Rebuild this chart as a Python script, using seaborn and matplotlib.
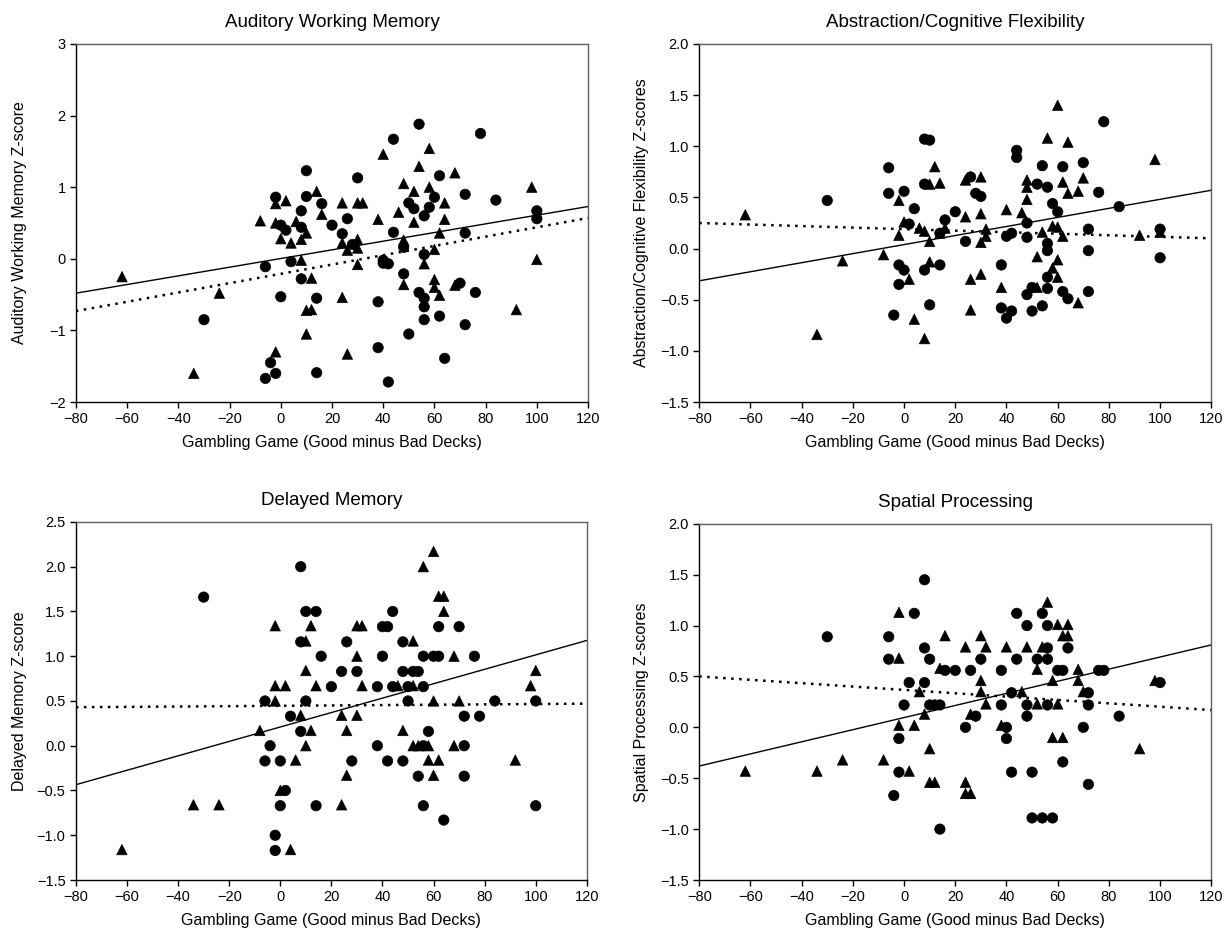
import pandas as pd
import seaborn as sns
import matplotlib.pyplot as plt

# x 값 (Gambling Game) / y 값 (Z-score), 원(circle)과 삼각형(triangle) 그룹
aud_circ_x = [-30, -6, -4, -6, -2, -2, 0, 2, 0, 4, 8, 8, 10, 10, 8, 14, 14, 16, 20, 24, 26, 30, 28, 38, 38,
              40, 40, 42, 44, 44, 42, 48, 48, 50, 50, 52, 54, 54, 56, 56, 56, 56, 56, 58, 60, 62, 62, 64,
              70, 72, 72, 72, 76, 78, 84, 100, 100]
aud_circ_y = [-0.85, -0.11, -1.45, -1.67, -1.60, 0.86, 0.47, 0.40, -0.53, -0.04, 0.67, 0.44, 1.23, 0.87,
              -0.28, -0.55, -1.59, 0.77, 0.47, 0.35, 0.56, 1.13, 0.20, -0.60, -1.24, -0.02, -0.06, -0.07,
              1.67, 0.37, -1.72, -0.21, 0.16, 0.78, -1.05, 0.70, 1.88, -0.47, 0.60, 0.06, -0.55, -0.67,
              -0.85, 0.72, 0.86, 1.16, -0.80, -1.39, -0.34, 0.90, 0.36, -0.92, -0.47, 1.75, 0.82, 0.67, 0.56]
aud_tri_x = [-62, -34, -24, -8, -2, -2, -2, 0, 2, 4, 6, 8, 8, 10, 10, 10, 12, 12, 14, 16, 24, 24, 24, 26,
             26, 30, 32, 30, 30, 30, 38, 40, 46, 48, 48, 48, 52, 52, 54, 56, 58, 58, 60, 60, 60, 62, 62,
             64, 64, 68, 68, 92, 98, 100]
aud_tri_y = [-0.25, -1.60, -0.48, 0.53, 0.77, 0.50, -1.30, 0.28, 0.81, 0.22, 0.52, 0.27, -0.02, 0.36,
             -0.72, -1.05, -0.27, -0.71, 0.94, 0.62, 0.78, 0.22, -0.54, 0.12, -1.33, 0.78, 0.78, 0.27,
             0.15, -0.08, 0.55, 1.46, 0.65, 1.05, 0.26, -0.36, 0.94, 0.51, 1.29, -0.07, 1.54, 1.00, 0.13,
             -0.29, -0.40, 0.36, -0.51, 0.78, 0.55, 1.20, -0.37, -0.71, 1.00, -0.01]

abs_circ_x = [-30, -6, -6, -4, -2, -2, 0, 0, 2, 4, 8, 10, 8, 8, 10, 14, 14, 16, 20, 24, 26, 28, 30, 38,
              38, 40, 40, 42, 42, 44, 44, 48, 48, 48, 50, 52, 54, 54, 56, 56, 56, 56, 56, 50, 58, 60, 62,
              62, 64, 70, 72, 72, 72, 76, 78, 84, 100, 100]
abs_circ_y = [0.47, 0.79, 0.54, -0.65, -0.16, -0.35, 0.56, -0.21, 0.24, 0.39, 1.07, 1.06, 0.63, -0.21,
              -0.55, -0.16, 0.15, 0.28, 0.36, 0.07, 0.70, 0.54, 0.51, -0.16, -0.58, 0.12, -0.68, 0.15,
              -0.61, 0.96, 0.89, 0.25, 0.11, -0.45, -0.61, 0.63, 0.81, -0.56, 0.60, 0.05, -0.02, -0.28,
              -0.39, -0.38, 0.44, 0.36, 0.80, -0.42, -0.49, 0.84, 0.19, -0.02, -0.42, 0.55, 1.24, 0.41,
              0.19, -0.09]
abs_tri_x = [-62, -34, -24, -8, -2, -2, 0, 2, 4, 6, 8, 8, 10, 10, 10, 12, 14, 14, 16, 24, 24, 26, 26, 30,
             30, 30, 30, 32, 32, 38, 40, 46, 48, 48, 48, 52, 52, 54, 56, 58, 58, 60, 60, 60, 60, 62, 62,
             64, 64, 68, 68, 70, 92, 98, 100]
abs_tri_y = [0.33, -0.84, -0.12, -0.06, 0.47, 0.13, 0.26, -0.30, -0.69, 0.20, 0.17, -0.88, 0.63, 0.07,
             -0.13, 0.80, 0.64, 0.15, 0.20, 0.31, 0.67, -0.30, -0.60, 0.70, 0.34, 0.06, -0.25, 0.19, 0.12,
             -0.38, 0.38, 0.35, 0.67, 0.60, 0.48, -0.08, -0.38, 0.16, 1.08, 0.22, -0.19, 1.40, 0.21, -0.11,
             -0.28, 0.65, 0.12, 1.04, 0.54, 0.56, -0.53, 0.69, 0.13, 0.87, 0.16]

del_circ_x = [-30, -6, -4, -6, -2, -2, 0, 0, 2, 4, 8, 8, 8, 10, 10, 14, 14, 16, 20, 24, 26, 28, 30, 38,
              38, 40, 42, 40, 42, 44, 44, 48, 48, 48, 50, 50, 52, 54, 54, 56, 56, 56, 56, 58, 60, 62, 62,
              64, 70, 72, 72, 72, 76, 78, 84, 100, 100]
del_circ_y = [1.66, 0.50, 0.0, -0.17, -1.0, -1.17, -0.17, -0.67, -0.50, 0.33, 2.0, 1.16, 0.16, 1.50,
              0.50, 1.50, -0.67, 1.0, 0.66, 0.83, 1.16, -0.17, 0.83, 0.66, 0.0, 1.33, 1.33, 1.0, -0.17,
              1.50, 0.66, 1.16, 0.83, -0.17, 0.66, 0.50, 0.83, 0.83, -0.34, 1.0, 0.66, 0.0, -0.67, 0.16,
              1.0, 1.0, 1.33, -0.83, 1.33, 0.33, 0.0, -0.34, 1.0, 0.33, 0.50, 0.50, -0.67]
del_tri_x = [-62, -34, -24, -8, -2, -2, -2, 0, 2, 4, 6, 8, 10, 10, 10, 12, 12, 14, 24, 24, 26, 26, 30,
             32, 30, 30, 32, 46, 48, 52, 52, 52, 54, 56, 58, 58, 60, 60, 60, 62, 64, 64, 62, 68, 68, 70,
             92, 98, 100]
del_tri_y = [-1.16, -0.66, -0.66, 0.17, 1.34, 0.67, 0.50, -0.50, 0.67, -1.16, -0.16, 0.34, 1.17, 0.84,
             0.0, 1.34, 0.17, 0.67, 0.34, -0.66, 0.17, -0.33, 1.34, 1.34, 1.0, 0.34, 0.67, 0.67, 0.17,
             1.17, 0.67, 0.0, 0.0, 2.0, 0.0, -0.16, 2.17, 0.50, -0.33, 1.67, 1.67, 1.50, -0.16, 1.0, 0.0,
             0.50, -0.16, 0.67, 0.84]

spa_circ_x = [-30, -6, -6, -4, -2, -2, 0, 2, 4, 8, 8, 8, 10, 10, 12, 14, 14, 16, 20, 24, 26, 28, 30, 38,
              38, 40, 40, 42, 42, 44, 44, 48, 48, 48, 50, 50, 52, 54, 54, 56, 56, 56, 56, 58, 60, 62, 62,
              64, 70, 72, 72, 72, 76, 78, 84, 100]
spa_circ_y = [0.89, 0.89, 0.67, -0.67, -0.11, -0.44, 0.22, 0.44, 1.12, 1.45, 0.78, 0.44, 0.67, 0.22,
              0.22, 0.22, -1.0, 0.56, 0.56, 0.0, 0.56, 0.11, 0.67, 0.56, 0.22, 0.0, -0.11, 0.34, -0.44,
              1.12, 0.67, 1.0, 0.22, 0.11, -0.44, -0.89, 0.67, 1.12, -0.89, 1.0, 0.78, 0.67, 0.22, -0.89,
              0.56, 0.56, -0.34, 0.78, 0.0, 0.34, 0.22, -0.56, 0.56, 0.56, 0.11, 0.44]
spa_tri_x = [-62, -34, -24, -8, -2, -2, -2, 2, 4, 6, 8, 10, 10, 12, 14, 16, 24, 24, 24, 26, 26, 30, 30,
             30, 32, 32, 38, 40, 46, 48, 52, 52, 54, 56, 58, 58, 60, 60, 62, 62, 64, 64, 68, 68, 70, 92,
             98]
spa_tri_y = [-0.43, -0.43, -0.32, -0.32, 1.13, 0.68, 0.02, -0.43, 0.02, 0.35, 0.13, -0.21, -0.54, -0.54,
             0.58, 0.90, 0.79, -0.54, -0.65, -0.65, 0.13, 0.90, 0.46, 0.35, 0.79, 0.23, 0.02, 0.79, 0.35,
             0.79, 0.57, 0.23, 0.79, 1.23, 0.46, -0.10, 1.01, 0.23, 0.90, -0.10, 1.01, 0.90, 0.57, 0.46,
             0.35, -0.21, 0.46]

# 회귀선 양 끝값 (x = -80, 120)
line_x = [-80, 120]
aud_solid, aud_dot = [-0.48, 0.73], [-0.73, 0.57]
abs_solid, abs_dot = [-0.315, 0.57], [0.25, 0.10]
del_solid, del_dot = [-0.435, 1.176], [0.43, 0.47]
spa_solid, spa_dot = [-0.38, 0.81], [0.50, 0.17]

titles = ['Auditory Working Memory', 'Abstraction/Cognitive Flexibility', 'Delayed Memory', 'Spatial Processing']
ylabels = ['Auditory Working Memory Z-score', 'Abstraction/Cognitive Flexibility Z-scores',
           'Delayed Memory Z-score', 'Spatial Processing Z-scores']
xlabel = 'Gambling Game (Good minus Bad Decks)'

panels = [
    (aud_circ_x, aud_circ_y, aud_tri_x, aud_tri_y, aud_solid, aud_dot, (-2, 3), [-2, -1, 0, 1, 2, 3], '%d'),
    (abs_circ_x, abs_circ_y, abs_tri_x, abs_tri_y, abs_solid, abs_dot, (-1.5, 2.0),
     [-1.5, -1.0, -0.5, 0.0, 0.5, 1.0, 1.5, 2.0], '%.1f'),
    (del_circ_x, del_circ_y, del_tri_x, del_tri_y, del_solid, del_dot, (-1.5, 2.5),
     [-1.5, -1.0, -0.5, 0.0, 0.5, 1.0, 1.5, 2.0, 2.5], '%.1f'),
    (spa_circ_x, spa_circ_y, spa_tri_x, spa_tri_y, spa_solid, spa_dot, (-1.5, 2.0),
     [-1.5, -1.0, -0.5, 0.0, 0.5, 1.0, 1.5, 2.0], '%.1f'),
]

sns.set_style('ticks')
plt.rcParams['font.family'] = ['Liberation Sans', 'DejaVu Sans']
plt.rcParams['axes.unicode_minus'] = True
plt.rcParams['text.color'] = 'black'
plt.rcParams['axes.labelcolor'] = 'black'

fig = plt.figure(figsize=(12.31, 9.35), dpi=100)
positions = [[0.0617, 0.570, 0.416, 0.383], [0.568, 0.570, 0.416, 0.383],
             [0.0617, 0.0588, 0.415, 0.383], [0.568, 0.0588, 0.416, 0.381]]
ylabel_pads = [16, 8, 7, 8]

for i, (cx, cy, tx, ty, solid, dot, ylim, yt, fmt) in enumerate(panels):
    ax = fig.add_axes(positions[i])
    df = pd.DataFrame({'x': cx + tx, 'y': cy + ty,
                       'group': ['circle'] * len(cx) + ['triangle'] * len(tx)})
    sns.scatterplot(data=df, x='x', y='y', style='group', markers={'circle': 'o', 'triangle': '^'},
                    color='black', edgecolor='black', s=56, linewidth=0.5, legend=False, ax=ax, zorder=3)
    ax.plot(line_x, solid, color='black', lw=1.0)
    ax.plot(line_x, dot, color='black', lw=1.8, linestyle=(0, (1, 2.2)))
    ax.set_xlim(-80, 120)
    ax.set_ylim(*ylim)
    ax.set_xticks(range(-80, 121, 20))
    ax.set_yticks(yt)
    ax.set_yticklabels([(fmt % v).replace('-', '\u2212') for v in yt])
    ax.set_xticklabels([str(v).replace('-', '\u2212') for v in range(-80, 121, 20)])
    ax.tick_params(direction='out', length=4, width=1, labelsize=10.5, colors='black')
    for side in ['top', 'right']:
        ax.spines[side].set_color('#606060')
    for side in ['left', 'bottom']:
        ax.spines[side].set_color('black')
    for s in ax.spines.values():
        s.set_linewidth(1.0)
    ax.set_title(titles[i], fontsize=13.5, pad=12, color='black')
    ax.set_xlabel(xlabel, fontsize=11.5, labelpad=6)
    ax.set_ylabel(ylabels[i], fontsize=11.5, labelpad=ylabel_pads[i])

plt.savefig('out.png', dpi=100)
